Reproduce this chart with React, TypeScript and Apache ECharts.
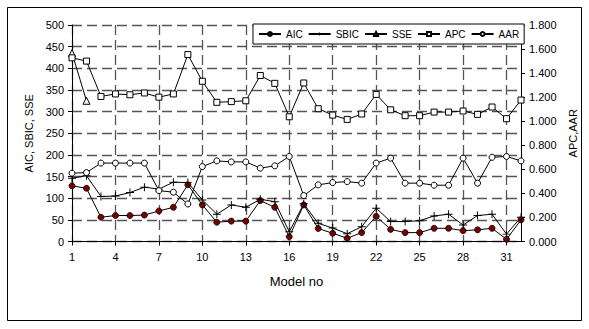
import React, { useEffect, useRef } from "react";
import * as echarts from "echarts";

const models = ["1","2","3","4","5","6","7","8","9","10","11","12","13","14","15","16","17","18","19","20","21","22","23","24","25","26","27","28","29","30","31","32"];
const aic = [128.5,123,56,60,60,61,70.5,79,131,84.5,44.5,47,47,94.5,79,11,84.5,30,19,7.5,20.5,58,28,20.5,20.5,30.5,30.5,25,27,30.5,5,50];
const sbic = [146,152,104,105,113,125.5,121,137,136,96,63,84.5,79,97.5,92,22.5,87,42,31,18,34,77,46,46,48,59,63,38,60,63,17,56];
const sse: (number | null)[] = [435,325,null,null,null,null,null,null,null,null,null,null,null,null,null,null,null,null,null,null,null,null,null,null,null,null,null,null,null,null,null,null];
const apc = [1.527,1.5,1.206,1.227,1.22,1.235,1.2,1.227,1.554,1.332,1.157,1.163,1.17,1.38,1.315,1.037,1.318,1.104,1.051,1.015,1.06,1.223,1.095,1.046,1.046,1.076,1.076,1.085,1.057,1.118,1.021,1.176];
const aar = [0.568,0.573,0.652,0.652,0.652,0.652,0.423,0.41,0.312,0.623,0.67,0.662,0.662,0.61,0.629,0.707,0.382,0.471,0.49,0.498,0.485,0.652,0.693,0.485,0.485,0.468,0.468,0.693,0.485,0.7,0.707,0.67];

const FONT = "'Liberation Sans', Arial, sans-serif";
const PLUS = "path://M4.4,0H5.6V4.4H10V5.6H5.6V10H4.4V5.6H0V4.4H4.4Z";

export default function App() {
  const ref = useRef<HTMLDivElement>(null);
  useEffect(() => {
    if (!ref.current) return;
    const chart = echarts.init(ref.current, null, { renderer: "svg" });
    const line = { color: "#000", width: 1 };
    const base = {
      type: "line",
      lineStyle: line,
      symbolSize: 6,
      connectNulls: false,
    };
    chart.setOption({
      animation: false,
      backgroundColor: "#fff",
      textStyle: { fontFamily: FONT },
      graphic: [
        {
          type: "rect",
          shape: { x: 7.5, y: 7.5, width: 574, height: 313 },
          style: { fill: "none", stroke: "#000", lineWidth: 1 },
          silent: true,
        },
      ],
      grid: { left: 72, right: 68, top: 25, bottom: 87.5, containLabel: false },
      legend: {
        left: 253,
        top: 24,
        padding: [5, 5],
        itemGap: 5,
        itemWidth: 22,
        itemHeight: 5,
        backgroundColor: "#fff",
        borderColor: "#000",
        borderWidth: 1,
        textStyle: { fontSize: 10, color: "#000", fontFamily: FONT },
        data: ["AIC", "SBIC", "SSE", "APC", "AAR"],
      },
      xAxis: {
        type: "category",
        data: models,
        boundaryGap: false,
        name: "Model no",
        nameLocation: "middle",
        nameGap: 33,
        nameTextStyle: { fontSize: 13, color: "#000", fontFamily: FONT },
        axisLine: { lineStyle: { color: "#000", width: 1 } },
        axisTick: { interval: 2, length: 4, lineStyle: { color: "#000" } },
        axisLabel: { interval: 2, margin: 10, fontSize: 11, color: "#000", fontFamily: FONT },
        splitLine: { show: true, interval: 2, lineStyle: { color: "#555", width: 1.3, type: [10, 5] } },
      },
      yAxis: [
        {
          type: "value",
          min: 0,
          max: 500,
          interval: 50,
          name: "AIC, SBIC, SSE",
          nameLocation: "middle",
          nameGap: 35,
          nameTextStyle: { fontSize: 11, color: "#000", fontFamily: FONT },
          axisLine: { show: true, lineStyle: { color: "#000", width: 1 } },
          axisTick: { show: true, length: 4, lineStyle: { color: "#000" } },
          axisLabel: { margin: 8, fontSize: 11, color: "#000", fontFamily: FONT },
          splitLine: { show: true, lineStyle: { color: "#555", width: 1.3, type: [10, 5] } },
        },
        {
          type: "value",
          min: 0,
          max: 1.8,
          interval: 0.2,
          position: "right",
          name: "APC,AAR",
          nameLocation: "middle",
          nameGap: 38,
          nameTextStyle: { fontSize: 11, color: "#000", fontFamily: FONT },
          axisLine: { show: true, lineStyle: { color: "#000", width: 1 } },
          axisTick: { show: true, length: 4, lineStyle: { color: "#000" } },
          axisLabel: { margin: 8, fontSize: 11, color: "#000", fontFamily: FONT, formatter: (v: number) => v.toFixed(3) },
          splitLine: { show: false },
        },
      ],
      series: [
        {
          ...base,
          name: "AIC",
          data: aic,
          symbol: "circle",
          itemStyle: { color: "#7a0000", borderColor: "#000", borderWidth: 0.8 },
        },
        {
          ...base,
          name: "SBIC",
          data: sbic,
          symbol: PLUS,
          symbolSize: 8,
          itemStyle: { color: "#000", borderColor: "#000", borderWidth: 0 },
        },
        {
          ...base,
          name: "SSE",
          data: sse,
          symbol: "triangle",
          symbolSize: 7,
          itemStyle: { color: "#fff", borderColor: "#000", borderWidth: 1 },
        },
        {
          ...base,
          name: "APC",
          data: apc,
          yAxisIndex: 1,
          symbol: "rect",
          itemStyle: { color: "#fff", borderColor: "#000", borderWidth: 1 },
        },
        {
          ...base,
          name: "AAR",
          data: aar,
          yAxisIndex: 1,
          symbol: "circle",
          itemStyle: { color: "#fff", borderColor: "#000", borderWidth: 1 },
        },
      ],
    });
    return () => chart.dispose();
  }, []);
  return (
    <div
      ref={ref}
      style={{ position: "fixed", left: 0, top: 0, width: 589, height: 329 }}
    />
  );
}
